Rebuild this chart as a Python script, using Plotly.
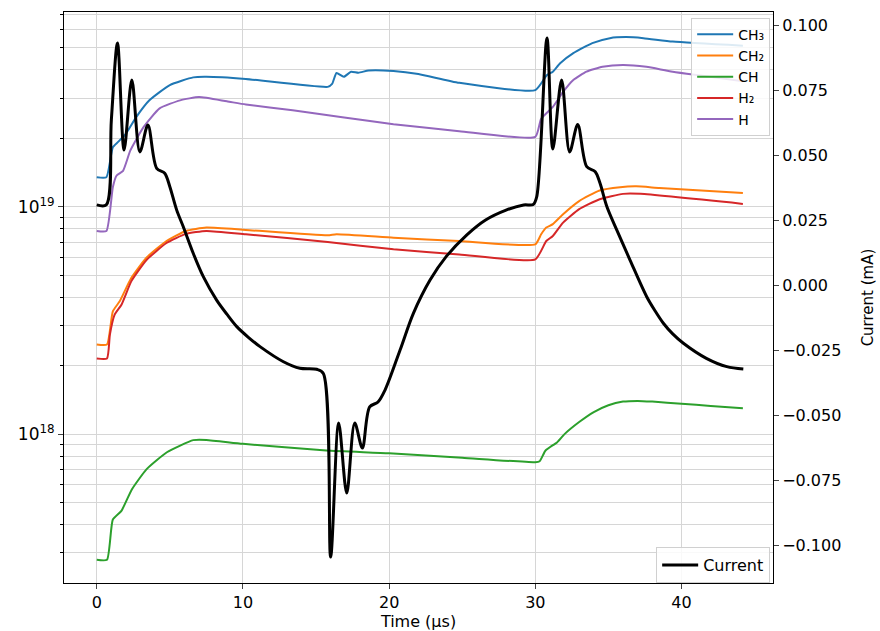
import plotly.graph_objects as go

# ---------------- data ----------------
t_ch3 = [0, 0.66, 1.1, 1.46, 2.0, 2.7, 3.6, 5.0, 6.6, 7.5, 10.2, 15.8, 16.1, 16.4, 16.9, 17.4,
         17.9, 18.6, 20.3, 22, 24.8, 30, 30.8, 31.2, 31.7, 32.6, 33.9, 35.1, 36.2, 37.4, 39.4, 44.2]
ch3 = [1.35e19, 1.35e19, 1.83e19, 1.93e19, 2.10e19, 2.48e19, 2.94e19, 3.43e19, 3.71e19, 3.73e19,
       3.65e19, 3.37e19, 3.47e19, 3.88e19, 3.73e19, 3.93e19, 3.89e19, 3.98e19, 3.96e19, 3.84e19,
       3.51e19, 3.26e19, 3.80e19, 3.93e19, 4.28e19, 4.74e19, 5.25e19, 5.52e19, 5.58e19, 5.52e19,
       5.33e19, 5.11e19]

t_ch2 = [0, 0.7, 1.1, 1.57, 2.37, 3.4, 4.77, 6.1, 7.5, 10.2, 15.8, 16.4, 20.3, 24.8, 30, 30.4,
         30.75, 31.2, 31.9, 33.0, 34.4, 35.8, 36.9, 38.5, 44.2]
ch2 = [2.48e18, 2.48e18, 3.47e18, 3.84e18, 4.87e18, 5.97e18, 7.07e18, 7.83e18, 8.10e18, 7.91e18,
       7.49e18, 7.57e18, 7.31e18, 7.07e18, 6.84e18, 7.57e18, 8.10e18, 8.39e18, 9.28e18, 1.06e19,
       1.18e19, 1.22e19, 1.23e19, 1.21e19, 1.15e19]

t_ch = [0, 0.7, 1.1, 1.7, 2.4, 3.4, 4.8, 6.6, 7.5, 10, 15.7, 20, 25, 30, 30.3, 30.7, 31.5, 32,
        33, 34, 35, 36, 37, 38, 40, 42, 44.2]
ch = [2.80e17, 2.80e17, 4.21e17, 4.61e17, 5.71e17, 7.00e17, 8.32e17, 9.41e17, 9.43e17, 9.06e17,
      8.47e17, 8.24e17, 7.87e17, 7.52e17, 7.60e17, 8.47e17, 9.22e17, 1.00e18, 1.13e18, 1.25e18,
      1.34e18, 1.39e18, 1.40e18, 1.39e18, 1.36e18, 1.33e18, 1.30e18]

t_h2 = [0, 0.7, 0.9, 1.23, 1.7, 2.37, 3.4, 4.77, 6.1, 7.5, 10.2, 15.8, 20.3, 24.8, 30, 30.75,
        31.2, 31.9, 33, 34.4, 36.0, 37.2, 44.2]
h2 = [2.15e18, 2.15e18, 2.74e18, 3.36e18, 3.72e18, 4.71e18, 5.83e18, 6.93e18, 7.60e18, 7.83e18,
      7.57e18, 7.00e18, 6.50e18, 6.17e18, 5.87e18, 7.07e18, 7.44e18, 8.52e18, 9.77e18, 1.08e19,
      1.14e19, 1.14e19, 1.03e19]

t_h = [0, 0.66, 1.1, 1.35, 1.8, 2.3, 3.2, 4.3, 5.7, 7.0, 8.9, 10.2, 13.4, 16.8, 20.3, 24.8, 30,
       30.4, 31.2, 31.9, 32.6, 33.5, 34.6, 36.0, 37.6, 39.4, 44.2]
h = [7.83e18, 7.83e18, 1.22e19, 1.37e19, 1.44e19, 1.77e19, 2.24e19, 2.71e19, 2.94e19, 3.04e19,
     2.91e19, 2.82e19, 2.66e19, 2.48e19, 2.31e19, 2.15e19, 2.03e19, 2.44e19, 2.75e19, 3.20e19,
     3.61e19, 3.93e19, 4.13e19, 4.21e19, 4.13e19, 3.93e19, 3.57e19]

t_cur = [0, 0.65, 1.0, 1.42, 1.87, 2.4, 2.95, 3.5, 4.1, 4.65, 5.0, 5.47, 5.92, 6.6, 7.29, 8.2,
         8.9, 9.58, 10.37, 11.17, 12.77, 13.9, 15.05, 15.5, 16.0, 16.55, 17.1, 17.65, 18.17,
         18.67, 19.24, 19.72, 20.75, 21.66, 22.8, 23.9, 25.3, 26.6, 28.0, 29.2, 29.86, 30.1,
         30.8, 31.2, 31.8, 32.35, 32.9, 33.52, 34.1, 34.43, 34.9, 35.57, 36.48, 37.62, 38.2,
         38.76, 39.4, 40.13, 41.7, 43.1, 44.23]
current = [0.0308, 0.0308, 0.0635, 0.0931, 0.0519, 0.0788, 0.0512, 0.0615, 0.0449, 0.0430,
           0.0378, 0.0288, 0.0224, 0.0122, 0.0032, -0.0058, -0.0112, -0.0160, -0.0201, -0.0237,
           -0.0295, -0.0320, -0.0324, -0.0340, -0.1046, -0.0531, -0.0800, -0.0531, -0.0627,
           -0.0469, -0.0450, -0.0404, -0.0250, -0.0109, 0.0019, 0.0109, 0.0192, 0.0250, 0.0288,
           0.0308, 0.0310, 0.0340, 0.0950, 0.0523, 0.0788, 0.0512, 0.0617, 0.0455, 0.0436,
           0.0391, 0.0301, 0.0212, 0.0096, -0.0045, -0.0100, -0.0147, -0.0188, -0.0224,
           -0.0282, -0.0314, -0.0323]

species = [
    ("CH₃", t_ch3, ch3, "#1f77b4"),
    ("CH₂", t_ch2, ch2, "#ff7f0e"),
    ("CH", t_ch, ch, "#2ca02c"),
    ("H₂", t_h2, h2, "#d62728"),
    ("H", t_h, h, "#9467bd"),
]

x_ticks = [0, 10, 20, 30, 40]
y2_ticks = [-0.1, -0.075, -0.05, -0.025, 0.0, 0.025, 0.05, 0.075, 0.1]
y_major = [1e18, 1e19]
y_major_text = ["10<sup>18</sup>", "10<sup>19</sup>"]
y_minor = [float(m) * 10.0 ** e for e in (17, 18, 19) for m in range(2, 10)]

# ---------------- figure ----------------
FONT = "DejaVu Sans"
fig = go.Figure()

for name, tx, vals, col in species:
    fig.add_trace(go.Scatter(x=tx, y=vals, mode="lines", name=name,
                             line=dict(color=col, width=2, shape="spline", smoothing=0.5),
                             yaxis="y", legend="legend"))

fig.add_trace(go.Scatter(x=t_cur, y=current, mode="lines", name="Current",
                         line=dict(color="black", width=3, shape="spline", smoothing=0.9),
                         yaxis="y2", legend="legend2"))

grid = "#d6d6d6"
fig.update_layout(
    width=880, height=631,
    margin=dict(l=64, r=107, t=12, b=48),
    paper_bgcolor="white", plot_bgcolor="white",
    font=dict(family=FONT, size=16, color="black"),
    xaxis=dict(range=[-2.24, 46.26], tickvals=x_ticks, ticks="outside", ticklen=5,
               showgrid=True, gridcolor=grid, gridwidth=1, zeroline=False,
               showline=True, linecolor="black", linewidth=1, mirror=True,
               tickfont=dict(size=16), automargin=False,
               title=dict(text="Time (μs)", standoff=4, font=dict(size=16))),
    yaxis=dict(type="log", range=[17.345, 19.857], tickvals=y_major, ticktext=y_major_text,
               ticks="outside", ticklen=5, showgrid=True, gridcolor=grid, gridwidth=1,
               zeroline=False, showline=True, linecolor="black", linewidth=1,
               tickfont=dict(size=17), automargin=False,
               minor=dict(tickvals=y_minor, ticks="outside", ticklen=3, showgrid=True,
                          gridcolor=grid, gridwidth=1, tickcolor="black")),
    yaxis2=dict(overlaying="y", side="right", range=[-0.1146, 0.105], tickvals=y2_ticks,
                tickformat=".3f", ticks="outside", ticklen=5, showgrid=False, zeroline=False,
                showline=True, linecolor="black", linewidth=1, tickfont=dict(size=16),
                automargin=False,
                title=dict(text="Current (mA)", standoff=22, font=dict(size=15))),
    legend=dict(x=0.996, y=0.99, xanchor="right", yanchor="top", bgcolor="rgba(255,255,255,0.85)",
                bordercolor="#d0d0d0", borderwidth=1, font=dict(size=14), itemwidth=36),
    legend2=dict(x=0.996, y=0.0, xanchor="right", yanchor="bottom",
                 bgcolor="rgba(255,255,255,0.85)", bordercolor="#d0d0d0", borderwidth=1,
                 font=dict(size=16), itemwidth=36),
)

fig.write_html("out.html")
